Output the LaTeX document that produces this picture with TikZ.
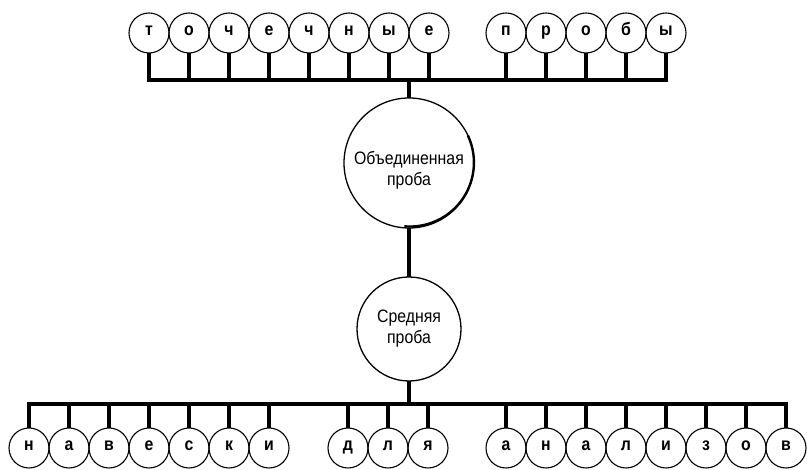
\documentclass[tikz,border=0pt]{standalone}
\usepackage{fontspec}
\setmainfont{Liberation Sans}
\newfontfamily\narrowsans[FakeStretch=0.88]{Liberation Sans}
\usetikzlibrary{positioning}
\tikzset{
  bead/.style={draw, circle, minimum size=40pt, inner sep=0pt, outer sep=0pt,
               line width=1.1pt, text height=1ex, text depth=0pt,
               font=\fontsize{18}{20}\narrowsans\bfseries},
  pool/.style={draw, circle, inner sep=0pt, outer sep=0pt, line width=1.3pt,
               align=center, font=\fontsize{18}{21}\narrowsans},
  stem/.style={line width=3.6pt},
}

\begin{document}
\begin{tikzpicture}[x=1pt, y=1pt]
  \useasboundingbox (0,0) rectangle (807,470);
  % top row: increments
  \foreach \ltr [count=\i] in {т,о,ч,е,ч,н,ы,е}
    \node[bead] (top\i) at ({149+40*(\i-1)},437) {\ltr};
  \foreach \ltr [count=\i from 9] in {п,р,о,б,ы}
    \node[bead] (top\i) at ({506+40*(\i-9)},437) {\ltr};
  % pooled and mean sample
  \node[pool, minimum size=130pt] (mixed) at (409,307) {};
  \node[align=center, font=\fontsize{18}{21}\narrowsans] (mixedtext)
    at ([yshift=-7pt]mixed.center) {Объединенная\\проба};
  \draw[line width=2.4pt] (mixed.25) arc[start angle=25, end angle=-95, radius=64];
  \node[pool, minimum size=104pt] (mean) at (409,141) {Средняя\\проба};
  % bottom row: test portions
  \foreach \ltr [count=\i] in {н,а,в,е,с,к,и}
    \node[bead] (bot\i) at ({29+40*(\i-1)},22) {\ltr};
  \foreach \ltr [count=\i from 8] in {д,л,я}
    \node[bead] (bot\i) at ({348+40*(\i-8)},22) {\ltr};
  \foreach \ltr [count=\i from 11] in {а,н,а,л,и,з,о,в}
    \node[bead] (bot\i) at ({506+40*(\i-11)},22) {\ltr};
  % buses
  \coordinate (topbus) at (409,390);
  \coordinate (botbus) at (409,66);
  \draw[stem] (top1.south) -- (top1 |- topbus) -- (top13 |- topbus) -- (top13.south);
  \foreach \i in {2,...,12} \draw[stem] (top\i.south) -- (top\i |- topbus);
  \draw[stem] (bot1.north) -- (bot1 |- botbus) -- (bot18 |- botbus) -- (bot18.north);
  \foreach \i in {2,...,17} \draw[stem] (bot\i.north) -- (bot\i |- botbus);
  \draw[stem] (topbus) -- (mixed.north);
  \draw[stem] (mixed.south) -- (mean.north);
  \draw[stem] (mean.south) -- (botbus);
\end{tikzpicture}
\end{document}
